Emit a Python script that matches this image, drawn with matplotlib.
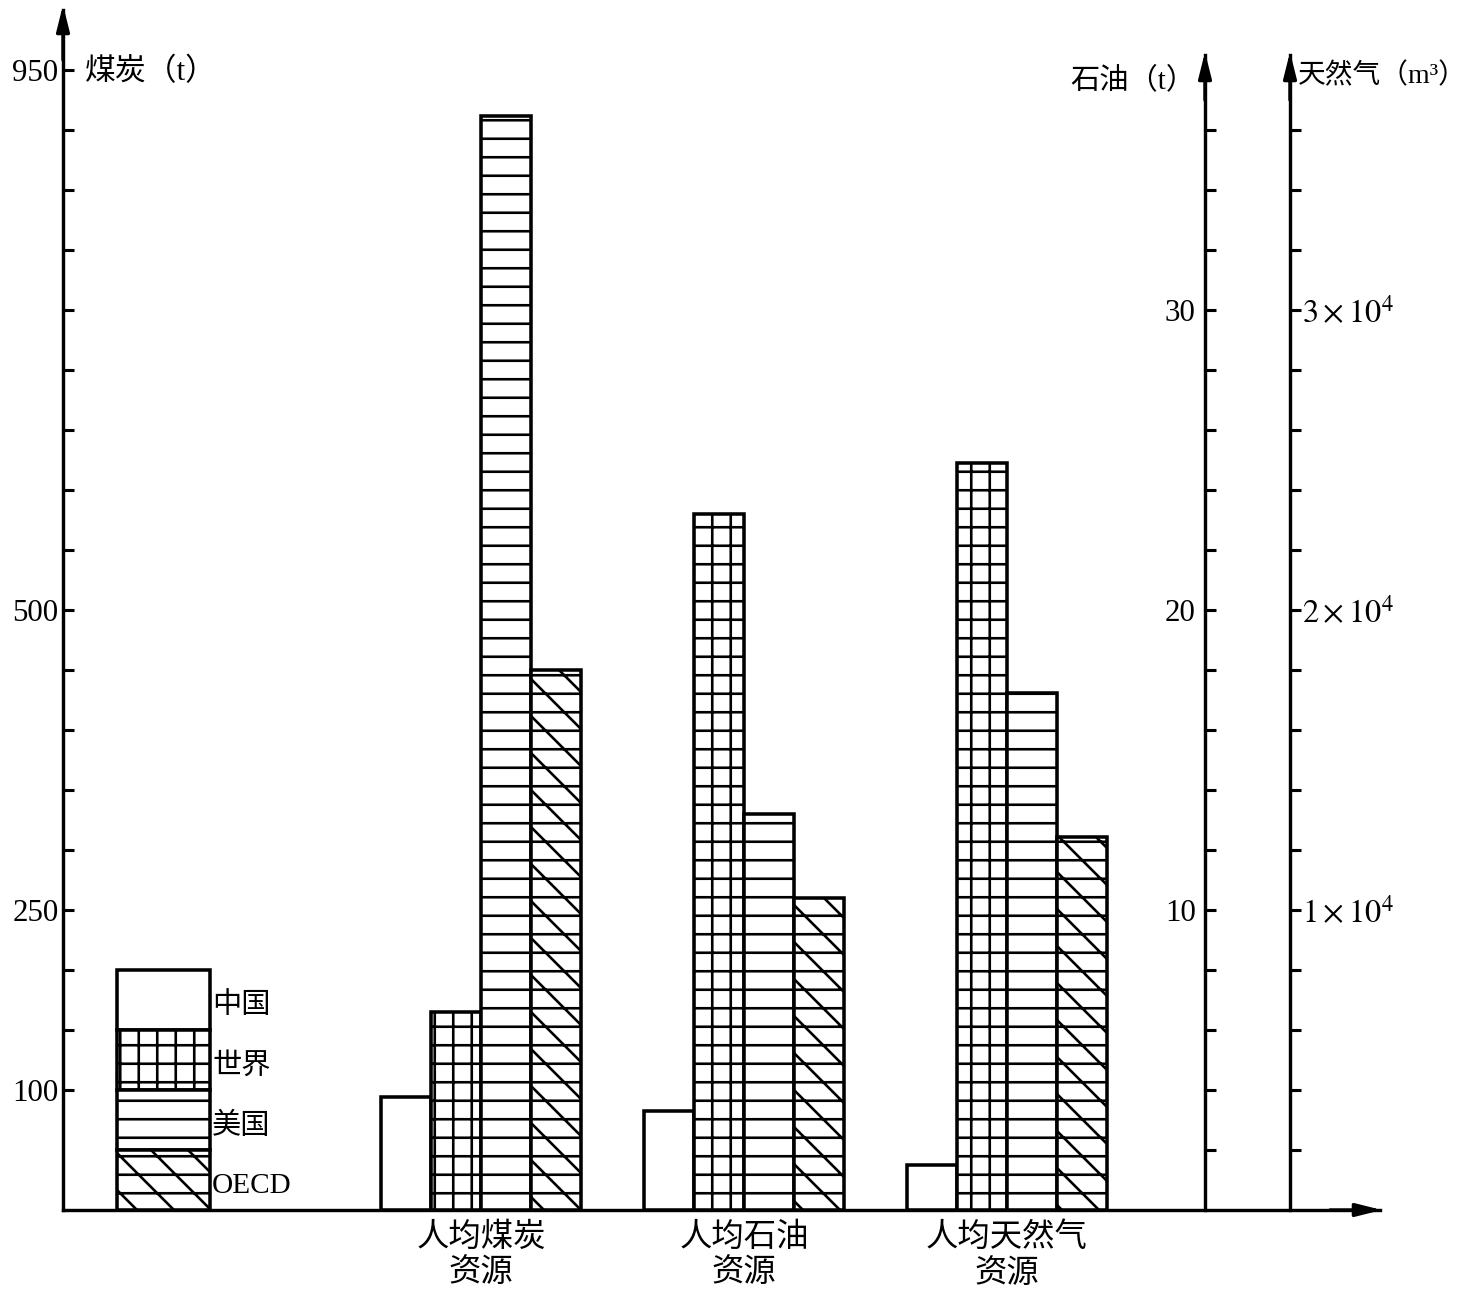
import matplotlib.pyplot as plt

# Fonts: serif for numbers, CJK fallback for Chinese
plt.rcParams['font.family'] = ['Liberation Serif', 'Noto Sans CJK SC']
plt.rcParams['mathtext.fontset'] = 'stix'
plt.rcParams['hatch.linewidth'] = 1.7
plt.rcParams['hatch.color'] = 'black'

# Data
regions = ['中国', '世界', '美国', 'OECD']
hatches = ['', '+', '-', '\\-']
groups = ['人均煤炭\n资源', '人均石油\n资源', '人均天然气\n资源']
coal = [94, 165, 912, 450]             # t per capita
oil = [3.3, 23.2, 13.2, 10.4]          # t per capita
gas = [1500, 24900, 17250, 12450]      # m3 per capita

coal_ticks = list(range(100, 951, 50))
coal_labels = ['950', '500', '250', '100']
oil_ticks = list(range(2, 37, 2))
gas_ticks = [t * 1000 for t in oil_ticks]

# Figure
W, H, DPI = 1467, 1292, 111
fig = plt.figure(figsize=(W / DPI, H / DPI), dpi=DPI)
x0, x1, y0, y1 = 63, 1380, 1210, 10
ax = fig.add_axes([x0 / W, 1 - y0 / H, (x1 - x0) / W, (y0 - y1) / H])

unit = 263.0             # px per group
width = 50.0 / unit      # bar width in group units

ax.set_xlim((x0 - 481) / unit, (x1 - 481) / unit)
ax.set_ylim(0, 1000)
ax2 = ax.twinx()
ax2.set_ylim(0, 40)
ax3 = ax.twinx()
ax3.set_ylim(0, 40000)

lw = 2.3
values = [coal, oil, gas]
axes = [ax, ax2, ax3]
for g in range(3):
    for i in range(4):
        axes[g].bar(g + (i - 1.5) * width, values[g][i], width=width,
                    facecolor='white', edgecolor='black', linewidth=lw,
                    hatch=hatches[i], zorder=3)

# legend built as stacked boxes
leg_x = (163 - 481) / unit
leg_w = 93 / unit
for i in range(4):
    k = 3 - i
    ax.bar(leg_x, 50, bottom=50 * k, width=leg_w, facecolor='white',
           edgecolor='black', linewidth=lw, hatch=hatches[i], zorder=3)
    ax.text(leg_x + leg_w / 2 + 0.01, 50 * k + 20, regions[i], fontsize=19,
            ha='left', va='center')

# Spines
for a in axes:
    for s in a.spines.values():
        s.set_visible(False)
        s.set_linewidth(2.2)

ax.spines['left'].set_visible(True)
ax.spines['bottom'].set_visible(True)
ax.set_xticks(range(3))
ax.set_xticklabels(groups, fontsize=21, linespacing=1.25)
ax.tick_params(axis='x', length=0, pad=8)
ax.set_yticks(coal_ticks)
ax.set_yticklabels([str(t) if str(t) in coal_labels else '' for t in coal_ticks])
ax.tick_params(axis='y', direction='in', length=7, width=2, labelsize=20, pad=3)

ax2.spines['left'].set_visible(True)
ax2.spines['left'].set_position(('axes', (1205 - x0) / (x1 - x0)))
ax2.spines['left'].set_bounds(0, (y0 - 55) / 30.0)
ax2.yaxis.tick_left()
ax2.set_yticks(oil_ticks)
ax2.set_yticklabels([str(t) if t % 10 == 0 else '' for t in oil_ticks])
ax2.tick_params(axis='y', direction='in', length=7, width=2, labelsize=20, pad=6)

ax3.spines['right'].set_visible(True)
ax3.spines['right'].set_position(('axes', (1290 - x0) / (x1 - x0)))
ax3.spines['right'].set_bounds(0, (y0 - 55) / 30.0 * 1000)
ax3.yaxis.tick_right()
ax3.set_yticks(gas_ticks)
ax3.set_yticklabels([r'$%d\times10^{4}$' % (t // 10000) if t % 10000 == 0 else ''
                     for t in gas_ticks])
ax3.tick_params(axis='y', direction='out', length=7, width=2, labelsize=21, pad=1)

# Arrow heads (figure pixel coordinates)
def arrow(xa, ya, xb, yb):
    ax.annotate('', xy=(xb / W, 1 - yb / H), xytext=(xa / W, 1 - ya / H),
                xycoords='figure fraction', textcoords='figure fraction',
                arrowprops=dict(arrowstyle='-|>,head_length=1.4,head_width=0.35',
                                color='black', lw=2.2, shrinkA=0, shrinkB=0),
                annotation_clip=False)

arrow(x0, 60, x0, 5)
arrow(1205, 100, 1205, 52)
arrow(1290, 100, 1290, 52)
arrow(1330, y0, 1382, y0)

# Axis titles
fig.text(85 / W, 1 - 72 / H, '煤炭（t）', fontsize=20, ha='left', va='center')
fig.text(1195 / W, 1 - 80 / H, '石油（t）', fontsize=19, ha='right', va='center')
fig.text(1298 / W, 1 - 76 / H, '天然气（m³）', fontsize=18, ha='left', va='center')

fig.savefig('out.png', dpi=DPI)
